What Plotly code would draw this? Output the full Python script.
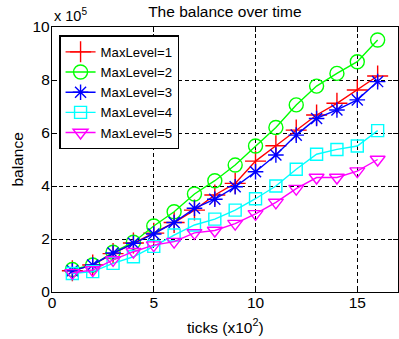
import plotly.graph_objects as go

# x positions: ticks in hundreds
ticks_x100 = list(range(1, 17))

# balance in units of 10^5
maxlevel_1 = [0.80, 1.02, 1.45, 1.85, 2.22, 2.62, 3.09, 3.66, 4.10, 4.94, 5.52, 6.11, 6.68, 7.12, 7.62, 8.15]
maxlevel_2 = [0.85, 1.02, 1.50, 1.88, 2.49, 3.03, 3.70, 4.20, 4.79, 5.51, 6.21, 7.06, 7.77, 8.25, 8.69, 9.51]
maxlevel_3 = [0.80, 1.02, 1.47, 1.84, 2.19, 2.62, 3.16, 3.50, 3.97, 4.54, 5.17, 5.92, 6.55, 6.87, 7.25, 7.94]
maxlevel_4 = [0.70, 0.77, 1.08, 1.33, 1.72, 2.15, 2.53, 2.75, 3.09, 3.52, 4.00, 4.63, 5.20, 5.38, 5.51, 6.09]
maxlevel_5 = [0.72, 0.83, 1.21, 1.52, 1.77, 1.90, 2.23, 2.32, 2.58, 2.95, 3.38, 3.90, 4.32, 4.32, 4.56, 5.00]

series_names = ["MaxLevel=1", "MaxLevel=2", "MaxLevel=3", "MaxLevel=4", "MaxLevel=5"]
series_values = [maxlevel_1, maxlevel_2, maxlevel_3, maxlevel_4, maxlevel_5]
colors = ["#ff0000", "#00ff00", "#0000ff", "#00ffff", "#ff00ff"]
symbols = ["cross-thin-open", "circle-open", "asterisk-open", "square-open", "triangle-down-open"]
sizes = [15, 14, 13, 12, 13]

x_tickvals = [0, 5, 10, 15]
y_tickvals = [0, 2, 4, 6, 8, 10]

FONT = "Liberation Sans, Arial, Helvetica, sans-serif"

fig = go.Figure()
for name, vals, c, s, sz in zip(series_names, series_values, colors, symbols, sizes):
    fig.add_trace(go.Scatter(
        x=ticks_x100, y=vals, name=name, mode="lines+markers",
        line=dict(color=c, width=1.4),
        marker=dict(symbol=s, size=sz, color=c, line=dict(color=c, width=1.4)),
    ))

axis_common = dict(
    showline=True, linecolor="black", linewidth=1.3, mirror="ticks",
    ticks="inside", ticklen=5, tickcolor="black", tickwidth=1,
    showgrid=True, gridcolor="black", gridwidth=1, griddash="4px,3px",
    zeroline=False, automargin=False,
    tickfont=dict(size=15.5, color="black", family=FONT),
)

fig.update_layout(
    width=399, height=339,
    margin=dict(l=52, r=1, t=27, b=47, autoexpand=False),
    paper_bgcolor="white", plot_bgcolor="white",
    font=dict(family=FONT, color="black", size=15),
    title=dict(text="The balance over time", x=0.5635, xanchor="center",
               yref="container", y=1 - 11.5 / 339, yanchor="middle",
               font=dict(size=15.5, color="black")),
    xaxis=dict(range=[0, 17], tickvals=x_tickvals, ticklabelstandoff=-4, **axis_common),
    yaxis=dict(range=[0, 10], tickvals=y_tickvals, ticklabelstandoff=-2, **axis_common),
    legend=dict(x=0.021, y=0.968, xanchor="left", yanchor="top",
                bgcolor="white", bordercolor="black", borderwidth=1.3,
                font=dict(size=13.2, color="black"), tracegroupgap=0),
    showlegend=True,
)

fig.add_annotation(text="ticks (x10<sup>2</sup>)", xref="paper", yref="paper",
                   x=0.5, y=-(326 - 292) / 265, xanchor="center", yanchor="middle",
                   showarrow=False, font=dict(size=15.5, color="black"))
fig.add_annotation(text="balance", xref="paper", yref="paper",
                   x=-(52 - 17.5) / 346, y=0.498, xanchor="center", yanchor="middle",
                   textangle=-90, showarrow=False, font=dict(size=15.5, color="black"))
fig.add_annotation(text="x 10<sup>5</sup>", xref="paper", yref="paper",
                   x=0, y=1, xanchor="left", yanchor="bottom", yshift=1,
                   showarrow=False, font=dict(size=14.5, color="black"))

fig.write_html(
    "out.html",
    config={"displayModeBar": False},
    post_script="document.body.style.margin='0';document.body.style.overflow='hidden';",
)
